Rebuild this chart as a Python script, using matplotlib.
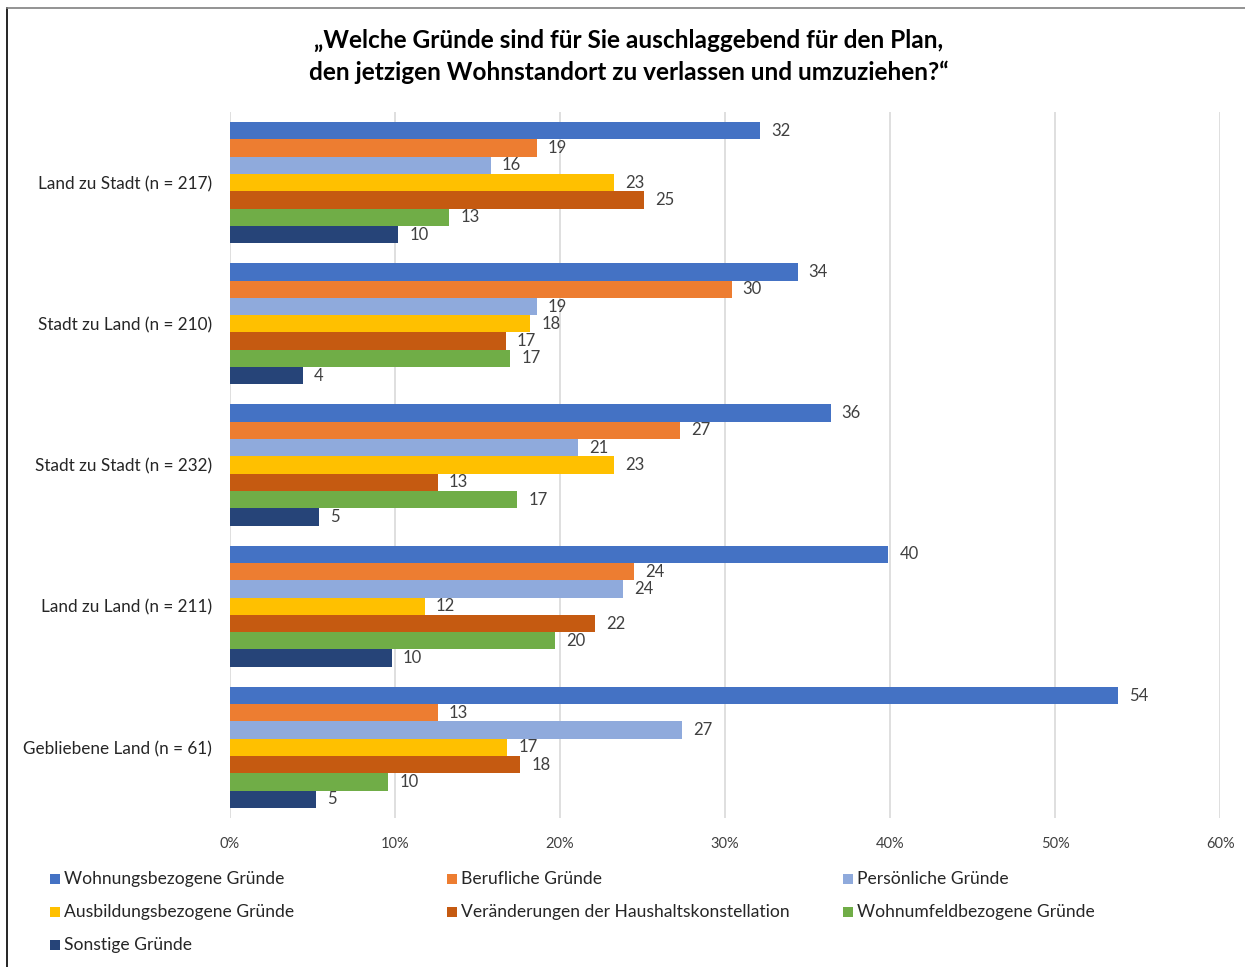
import matplotlib
matplotlib.use("Agg")
import matplotlib.pyplot as plt
import numpy as np
from matplotlib.patches import Rectangle
from matplotlib.lines import Line2D

plt.rcParams["font.family"] = ["Lato", "DejaVu Sans"]

categories = [
    "Land zu Stadt (n = 217)",
    "Stadt zu Land (n = 210)",
    "Stadt zu Stadt (n = 232)",
    "Land zu Land (n = 211)",
    "Gebliebene Land (n = 61)",
]

series_names = [
    "Wohnungsbezogene Gründe",
    "Berufliche Gründe",
    "Persönliche Gründe",
    "Ausbildungsbezogene Gründe",
    "Veränderungen der Haushaltskonstellation",
    "Wohnumfeldbezogene Gründe",
    "Sonstige Gründe",
]

colors = ["#4472C4", "#ED7D31", "#8FAADC", "#FFC000", "#C55A11", "#70AD47", "#264478"]

# values in percent, per series (one entry per category)
wohnung = [32.1, 34.4, 36.4, 39.9, 53.8]
beruf = [18.6, 30.4, 27.3, 24.5, 12.6]
persoenlich = [15.8, 18.6, 21.1, 23.8, 27.4]
ausbildung = [23.3, 18.2, 23.3, 11.8, 16.8]
haushalt = [25.1, 16.7, 12.6, 22.1, 17.6]
wohnumfeld = [13.3, 17.0, 17.4, 19.7, 9.6]
sonstige = [10.2, 4.4, 5.4, 9.8, 5.2]

values = [wohnung, beruf, persoenlich, ausbildung, haushalt, wohnumfeld, sonstige]

xticks = [0, 10, 20, 30, 40, 50, 60]

fig = plt.figure(figsize=(12.45, 9.67), dpi=100)
ax = fig.add_axes([0.1847, 0.1541, 0.7953, 0.73])

n_series = len(values)
bar_h = 0.1225
y = np.arange(len(categories))
for i, (vals, col) in enumerate(zip(values, colors)):
    pos = y - (n_series - 1) / 2 * bar_h + i * bar_h
    bars = ax.barh(pos, vals, height=bar_h, color=col, zorder=3)
    for b, v in zip(bars, vals):
        ax.annotate(f"{round(v):d}", (b.get_width(), b.get_y() + b.get_height() / 2),
                    xytext=(8, 0), textcoords="offset points", ha="left", va="center",
                    fontsize=12, color="#404040")

ax.set_xlim(0, 60)
ax.set_ylim(len(categories) - 0.5, -0.5)
ax.set_xticks(xticks)
ax.set_xticklabels([f"{t}%" for t in xticks], fontsize=10.5, color="#404040")
ax.set_yticks(y)
ax.set_yticklabels(categories, fontsize=12.3, color="#262626")
ax.tick_params(axis="both", length=0)
ax.tick_params(axis="x", pad=14)
ax.tick_params(axis="y", pad=13)
ax.grid(axis="x", color="#D9D9D9", linewidth=1.2, zorder=0)
for s in ax.spines.values():
    s.set_visible(False)

fig.text(0.505, 0.970, "„Welche Gründe sind für Sie auschlaggebend für den Plan,\n"
         "den jetzigen Wohnstandort zu verlassen und umzuziehen?“",
         ha="center", va="top", fontsize=17.6, fontweight="bold", linespacing=1.42)

# legend, filled row-wise like the original
col_x = [50, 447, 843]
row_y = [879, 912, 945]
W, H = 1245, 967
for i, (name, col) in enumerate(zip(series_names, colors)):
    r, c = divmod(i, 3)
    x0 = col_x[c] / W
    y0 = 1 - row_y[r] / H
    fig.patches.append(Rectangle((x0, y0 - 5 / H), 10 / W, 10 / H, transform=fig.transFigure,
                                 facecolor=col, edgecolor="none"))
    fig.text(x0 + 14 / W, y0, name, ha="left", va="center", fontsize=12.6, color="#262626")

# chart border (left and top edge visible)
fig.add_artist(Line2D([7 / W, 7 / W], [0, 1 - 8 / H], transform=fig.transFigure,
                      color="#000000", linewidth=1.2))
fig.add_artist(Line2D([7 / W, 1], [1 - 8 / H, 1 - 8 / H], transform=fig.transFigure,
                      color="#808080", linewidth=1.2))

fig.savefig("out.png", dpi=100)
